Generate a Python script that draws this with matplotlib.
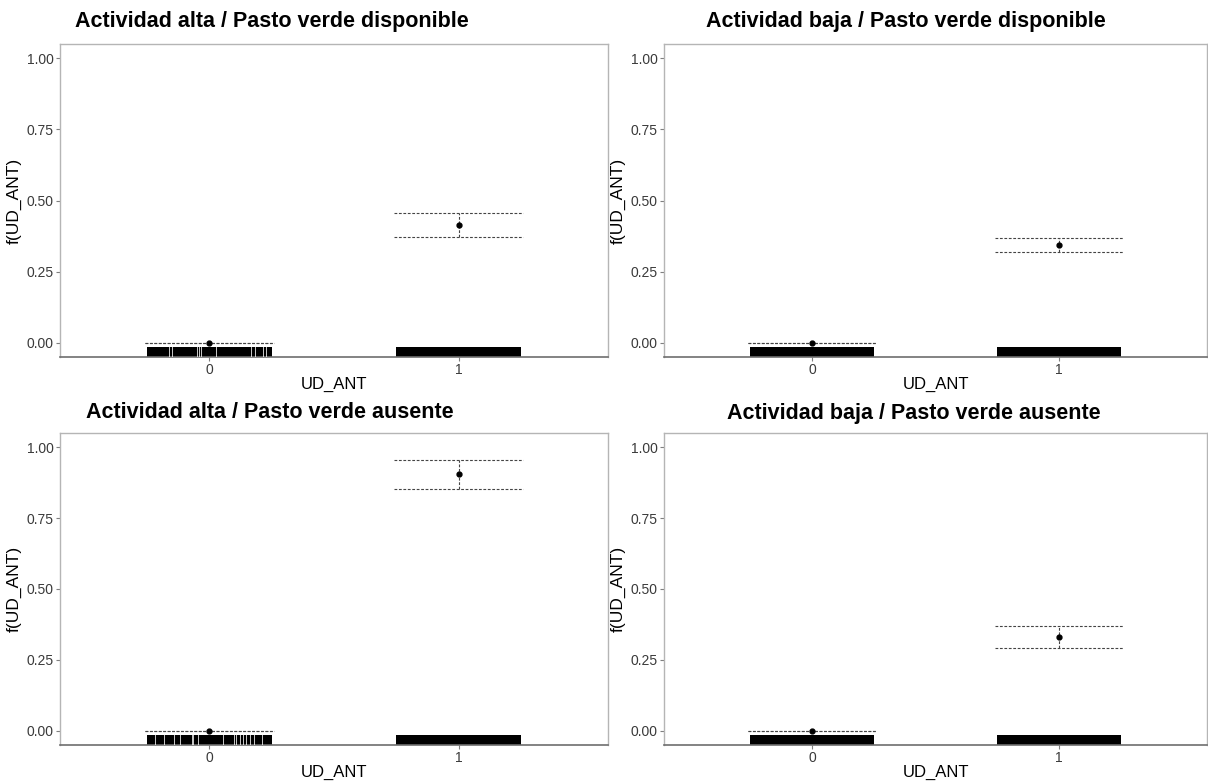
import matplotlib
matplotlib.use("Agg")

import numpy as np
import matplotlib.pyplot as plt
from matplotlib.transforms import blended_transform_factory

plt.rcParams['font.family'] = ['Liberation Sans', 'DejaVu Sans']

# datos
titles = [
    "Actividad alta / Pasto verde disponible",
    "Actividad baja / Pasto verde disponible",
    "Actividad alta / Pasto verde ausente",
    "Actividad baja / Pasto verde ausente",
]
categories = ["0", "1"]
fit = [[0.0, 0.414], [0.0, 0.345], [0.0, 0.905], [0.0, 0.332]]
lower = [[0.0, 0.372], [0.0, 0.320], [0.0, 0.852], [0.0, 0.292]]
upper = [[0.0, 0.455], [0.0, 0.367], [0.0, 0.954], [0.0, 0.369]]

# huecos visibles en el rug (desplazamiento respecto a la categoria 0)
rug_gaps_0 = [
    [-0.161, -0.150, -0.052, -0.043, -0.033, 0.027, 0.167, 0.181, 0.214, 0.225],
    [],
    [-0.218, -0.184, -0.143, -0.118, -0.069, -0.065, -0.047, 0.054, 0.097,
     0.108, 0.122, 0.133, 0.147, 0.164, 0.180, 0.211],
    [],
]
rug_half = 0.25
ci_half = 0.26

W, H = 1208, 783
fig = plt.figure(figsize=(W / 100, H / 100), dpi=100)

# posiciones en pixeles: izquierda, derecha, arriba, abajo
boxes = [(60, 608, 44, 357), (664, 1207, 44, 357),
         (60, 608, 433, 745), (664, 1207, 433, 745)]
title_x = [272, 906, 270, 914]
title_y = [22, 22, 413, 413]

for i, (l, r, t, b) in enumerate(boxes):
    ax = fig.add_axes([l / W, 1 - b / H, (r - l) / W, (b - t) / H])
    x = np.arange(len(categories))

    # rug
    tr = blended_transform_factory(ax.transData, ax.transAxes)
    for xi in x:
        ax.fill_between([xi - rug_half, xi + rug_half], 0, 0.031,
                        transform=tr, color='black', lw=0, zorder=2)
    for g in rug_gaps_0[i]:
        ax.plot([g, g], [0, 0.031], transform=tr, color='white', lw=0.7,
                alpha=0.8, zorder=3)

    # intervalos de confianza
    for xi in x:
        ax.hlines([upper[i][xi], lower[i][xi]], xi - ci_half, xi + ci_half,
                  colors='#444444', linestyles=(0, (2.5, 1.5)), lw=0.8, zorder=4)
        ax.vlines(xi, lower[i][xi], upper[i][xi], colors='#444444',
                  linestyles=(0, (2.5, 1.5)), lw=0.8, zorder=4)
    ax.plot(x, fit[i], 'o', color='black', ms=3.5, zorder=5)

    ax.set_xlim(-0.6, 1.6)
    ax.set_ylim(-0.05, 1.05)
    ax.set_xticks(x)
    ax.set_xticklabels(categories)
    ax.set_yticks([0, 0.25, 0.5, 0.75, 1.0])
    ax.set_yticklabels(["0.00", "0.25", "0.50", "0.75", "1.00"])
    ax.tick_params(axis='both', colors='#7f7f7f', labelcolor='#3a3a3a',
                   labelsize=10, length=3, width=0.8, pad=1.5)

    for s in ['left', 'top', 'right']:
        ax.spines[s].set_color('#b5b5b5')
        ax.spines[s].set_linewidth(1.0)
    ax.spines['bottom'].set_color('#6e6e6e')
    ax.spines['bottom'].set_linewidth(1.2)

    ax.set_xlabel("UD_ANT", fontsize=12, labelpad=0)
    ax.set_ylabel("f(UD_ANT)", fontsize=12.5)
    ax.yaxis.set_label_coords(-0.07, 0.5)

    fig.text(title_x[i] / W, 1 - title_y[i] / H, titles[i], ha='center',
             va='center', fontsize=15.5, fontweight='bold')

fig.savefig("out.png", dpi=100)
